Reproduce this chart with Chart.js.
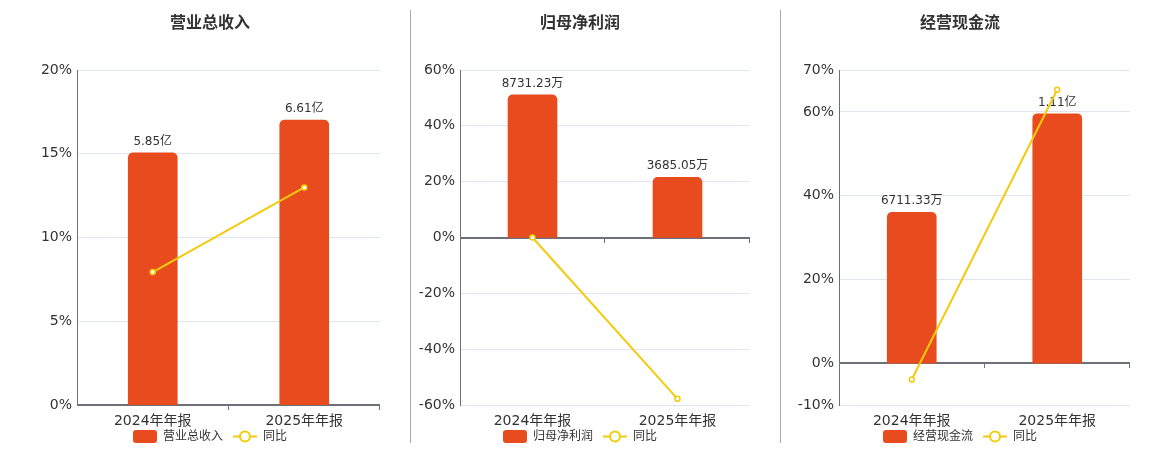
<!DOCTYPE html>
<html>
<head>
<meta charset="utf-8">
<script src="https://cdn.jsdelivr.net/npm/chart.js@4.4.1/dist/chart.umd.min.js"></script>
<style>
html, body { margin: 0; padding: 0; background: #fff; overflow: hidden; width: 1160px; height: 450px; }
#wrap { position: absolute; left: 0; top: 0; width: 1160px; height: 450px; overflow: hidden; }
canvas { position: absolute; top: 0; }
.sep { position: absolute; top: 10px; width: 1px; height: 433px; background: #a8a8a8; }
</style>
</head>
<body>
<div id="wrap">
  <canvas id="c1" width="400" height="450" style="left:0px"></canvas>
  <canvas id="c2" width="370" height="450" style="left:400px"></canvas>
  <canvas id="c3" width="380" height="450" style="left:780px"></canvas>
  <div class="sep" style="left:410px"></div>
  <div class="sep" style="left:780px"></div>
</div>
<script>
// ---- data ----
const categories = ['2024年年报', '2025年年报'];

const revenueTitle = '营业总收入';
const revenueValues = [5.85, 6.61];          // 亿
const revenueLabels = ['5.85亿', '6.61亿'];
const revenueYoY = [7.94, 12.99];            // %
const revenueTicks = [0, 5, 10, 15, 20];

const profitTitle = '归母净利润';
const profitValues = [8731.23, 3685.05];     // 万
const profitLabels = ['8731.23万', '3685.05万'];
const profitYoY = [0, -57.79];
const profitTicks = [-60, -40, -20, 0, 20, 40, 60];

const cashTitle = '经营现金流';
const cashValues = [6711.33, 11100];         // 万
const cashLabels = ['6711.33万', '1.11亿'];
const cashYoY = [-3.9, 65.3];
const cashTicks = [-10, 0, 20, 40, 60, 70];

const yoyName = '同比';

// ---- styles ----
const FONT = "'DejaVu Sans', 'Noto Sans CJK SC', sans-serif";
const BAR_COLOR = '#E84C1E';
const LINE_COLOR = '#F3CB0D';
const AXIS_COLOR = '#6E7079';
const GRID_COLOR = '#E0E6F1';
const TEXT_COLOR = '#333333';

Chart.defaults.font.family = FONT;
Chart.defaults.color = TEXT_COLOR;

const zeroAxis = {
  id: 'zeroAxis',
  beforeDatasetsDraw(chart) {
    const {ctx, chartArea, scales} = chart;
    const y0 = Math.round(scales.y.getPixelForValue(0));
    ctx.save();
    ctx.strokeStyle = AXIS_COLOR;
    ctx.lineWidth = 2;
    ctx.beginPath();
    ctx.moveTo(chartArea.left, y0);
    ctx.lineTo(chartArea.right, y0);
    ctx.stroke();
    ctx.lineWidth = 1;
    const n = chart.data.labels.length;
    const step = (chartArea.right - chartArea.left) / n;
    for (let i = 1; i <= n; i++) {
      const x = Math.round(chartArea.left + step * i) - 0.5;
      ctx.beginPath();
      ctx.moveTo(x, y0);
      ctx.lineTo(x, y0 + 5);
      ctx.stroke();
    }
    ctx.restore();
  }
};

const barLabels = {
  id: 'barLabels',
  afterDatasetDraw(chart, args) {
    if (args.meta.type !== 'bar') return;
    const ds = chart.data.datasets[args.index];
    const ctx = chart.ctx;
    ctx.save();
    ctx.font = '12px ' + FONT;
    ctx.fillStyle = TEXT_COLOR;
    ctx.textAlign = 'center';
    ctx.textBaseline = 'middle';
    args.meta.data.forEach((el, i) => {
      ctx.fillText(ds.valueLabels[i], el.x, el.y - 11);
    });
    ctx.restore();
  }
};

// legend drawn under the axis labels, centred on the panel content box
const bottomLegend = {
  id: 'bottomLegend',
  afterDraw(chart, args, opts) {
    const ctx = chart.ctx;
    const pad = chart.options.layout.padding;
    const cx = (pad.left + chart.width - pad.right) / 2;
    const cy = opts.y;
    ctx.save();
    ctx.font = '12px ' + FONT;
    const items = chart.data.datasets.slice().reverse();
    const widths = items.map(d => 24 + 6 + ctx.measureText(d.label).width);
    const total = widths.reduce((a, b) => a + b, 0) + 10 * (items.length - 1);
    let x = cx - total / 2;
    items.forEach((d, i) => {
      if (d.type === 'bar') {
        ctx.fillStyle = d.backgroundColor;
        ctx.beginPath();
        if (ctx.roundRect) ctx.roundRect(x, cy - 6.5, 24, 13, 3); else ctx.rect(x, cy - 6.5, 24, 13);
        ctx.fill();
      } else {
        ctx.strokeStyle = d.borderColor;
        ctx.lineWidth = 2;
        ctx.beginPath(); ctx.moveTo(x, cy); ctx.lineTo(x + 24, cy); ctx.stroke();
        ctx.fillStyle = '#fff';
        ctx.beginPath(); ctx.arc(x + 12, cy, 5, 0, Math.PI * 2); ctx.fill(); ctx.stroke();
      }
      ctx.fillStyle = TEXT_COLOR;
      ctx.textAlign = 'left';
      ctx.textBaseline = 'middle';
      ctx.fillText(d.label, x + 30, cy);
      x += widths[i] + 10;
    });
    ctx.restore();
  }
};

function makeChart(id, title, values, labels, yoy, ticks, barMin, barMax, pad, yWidth) {
  return new Chart(document.getElementById(id), {
    data: {
      labels: categories,
      datasets: [
        {
          type: 'line',
          label: yoyName,
          data: yoy,
          yAxisID: 'y',
          order: 0,
          borderColor: LINE_COLOR,
          borderWidth: 2,
          pointRadius: 2.5,
          pointBorderWidth: 1.5,
          pointBackgroundColor: '#ffffff',
          pointBorderColor: LINE_COLOR,
          tension: 0,
          fill: false
        },
        {
          type: 'bar',
          label: title,
          data: values,
          valueLabels: labels,
          yAxisID: 'y1',
          order: 1,
          backgroundColor: BAR_COLOR,
          barThickness: 49,
          borderRadius: {topLeft: 5, topRight: 5, bottomLeft: 0, bottomRight: 0},
          borderSkipped: false
        }
      ]
    },
    options: {
      responsive: false,
      animation: false,
      events: [],
      layout: {padding: {left: pad[0], right: pad[1], top: 0, bottom: 15}},
      scales: {
        x: {
          grid: {display: false},
          border: {display: false},
          ticks: {font: {size: 14}, color: TEXT_COLOR, padding: 0},
          afterFit(s) { s.height = 30; }
        },
        y: {
          position: 'left',
          min: ticks[0],
          max: ticks[ticks.length - 1],
          afterBuildTicks(s) { s.ticks = ticks.map(v => ({value: v})); },
          grid: {color: GRID_COLOR, drawTicks: false, lineWidth: 1},
          border: {display: true, color: AXIS_COLOR, width: 1},
          ticks: {font: {size: 14}, color: TEXT_COLOR, padding: 5, callback: v => v + '%'},
          afterFit(s) { s.width = yWidth; }
        },
        y1: {
          display: false,
          min: barMin,
          max: barMax
        }
      },
      plugins: {
        title: {
          display: true,
          text: title,
          color: TEXT_COLOR,
          font: {size: 16, weight: 'bold'},
          padding: {top: 14, bottom: 36.8}
        },
        legend: {display: false},
        bottomLegend: {y: 436.5},
        tooltip: {enabled: false}
      }
    },
    plugins: [zeroAxis, barLabels, bottomLegend]
  });
}

makeChart('c1', revenueTitle, revenueValues, revenueLabels, revenueYoY, revenueTicks, 0, 7.77, [40, 20], 37);
makeChart('c2', profitTitle, profitValues, profitLabels, profitYoY, profitTicks, -10254, 10254, [10, 20], 50);
makeChart('c3', cashTitle, cashValues, cashLabels, cashYoY, cashTicks, -1864, 13046, [10, 30], 49);
</script>
</body>
</html>
